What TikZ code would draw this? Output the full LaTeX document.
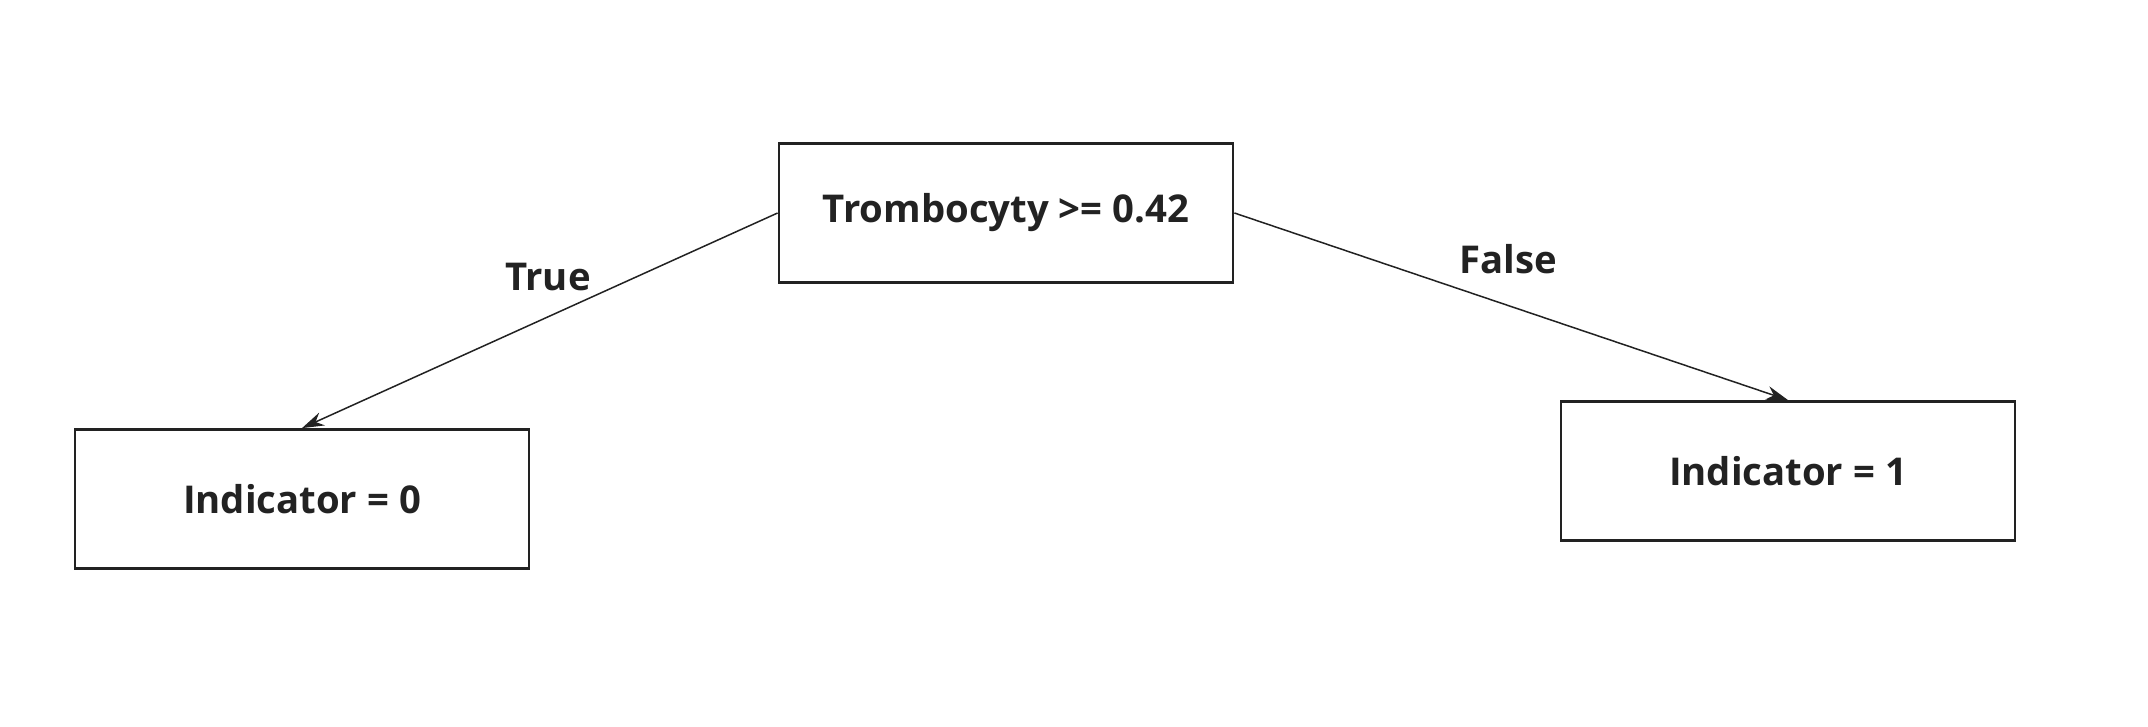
\documentclass[tikz,border=0pt]{standalone}
\usepackage{fontspec}
\setmainfont{Open Sans}
\usetikzlibrary{arrows.meta}
\definecolor{ink}{HTML}{222222}
\tikzset{
  box/.style={draw=ink, line width=2.8pt, minimum width=454pt, minimum height=139pt, inner sep=0pt, text=ink, font=\fontsize{38.3}{44}\selectfont\bfseries},
  edgelbl/.style={text=ink, font=\fontsize{38.3}{44}\selectfont\bfseries},
  conn/.style={draw=ink, line width=1.5pt, -{Stealth[length=22pt, width=14pt]}}
}
\begin{document}
\begin{tikzpicture}[x=1pt, y=-1pt]
\useasboundingbox (0,0) rectangle (2148,727);
\node[box] (root) at (1006,213) {Trombocyty >= 0.42};
\node[box] (left) at (302,499) {Indicator = 0};
\node[box] (right) at (1788,471) {Indicator = 1};
\draw[conn] (root.west) -- (left.north);
\draw[conn] (root.east) -- (right.north);
\node[edgelbl] (t) at (548,277) {True};
\node[edgelbl] (f) at (1508,259) {False};
\end{tikzpicture}
\end{document}
